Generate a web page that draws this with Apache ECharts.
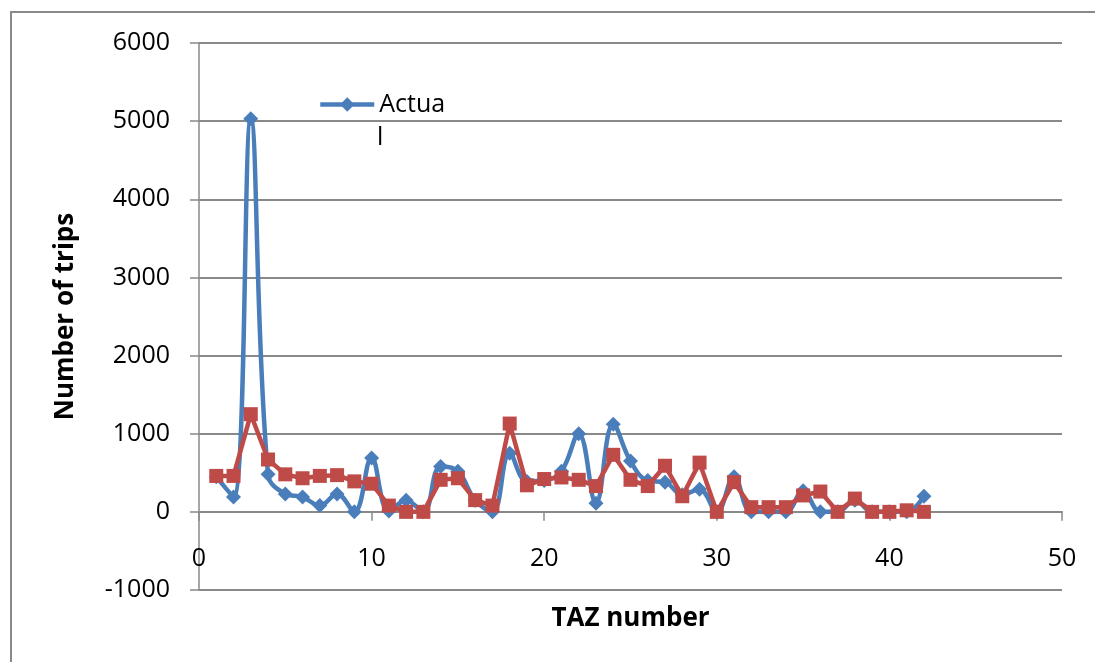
<!DOCTYPE html>
<html>
<head>
<meta charset="utf-8">
<script src="https://cdn.jsdelivr.net/npm/echarts@6/dist/echarts.min.js"></script>
<style>
html,body{margin:0;padding:0;background:#fff;}
#chart{width:1095px;height:662px;}
</style>
</head>
<body>
<div id="chart"></div>
<script>
const tazNumbers = [1,2,3,4,5,6,7,8,9,10,11,12,13,14,15,16,17,18,19,20,21,22,23,24,25,26,27,28,29,30,31,32,33,34,35,36,37,38,39,40,41,42];
const actualTrips = [450,190,5030,480,230,190,80,230,0,690,10,150,0,580,520,150,0,750,390,400,520,1000,110,1120,650,400,380,220,290,0,450,0,0,0,270,0,0,150,0,0,0,200];
const estimatedTrips = [460,460,1250,670,480,430,460,470,390,360,80,0,0,410,430,150,80,1130,340,420,440,410,330,730,410,330,590,200,630,0,380,60,60,60,210,260,0,170,0,0,20,0];
const yTicks = [-1000,0,1000,2000,3000,4000,5000,6000];
const xTicks = [0,10,20,30,40,50];

const actualName = 'Actual';
const estimatedName = 'Estimated';

const FONT = '"Open Sans", "Liberation Sans", sans-serif';
const GRIDC = '#898989';

const chart = echarts.init(document.getElementById('chart'), null, {renderer:'canvas'});
chart.setOption({
  animation:false,
  backgroundColor:'#fff',
  grid:{left:199, right:33, top:43, bottom:72, containLabel:false, outerBoundsMode:'none'},
  xAxis:{
    type:'value', min:xTicks[0], max:xTicks[xTicks.length-1], interval:10,
    name:'TAZ number', nameLocation:'middle', nameGap:16,
    nameTextStyle:{fontFamily:FONT, fontSize:26, fontWeight:'bold', color:'#000'},
    axisLine:{show:true, onZero:true, lineStyle:{color:GRIDC, width:2}},
    axisTick:{show:true, length:9, lineStyle:{color:GRIDC, width:1.5}},
    axisLabel:{fontFamily:FONT, fontSize:25, color:'#000', margin:-44, formatter:function(v){return String(v);}},
    splitLine:{show:false}
  },
  yAxis:{
    type:'value', min:yTicks[0], max:yTicks[yTicks.length-1], interval:1000,
    name:'Number of trips', nameLocation:'middle', nameGap:120,
    nameTextStyle:{fontFamily:FONT, fontSize:26, fontWeight:'bold', color:'#000'},
    axisLine:{show:true, onZero:false, lineStyle:{color:GRIDC, width:1.5}},
    axisTick:{show:true, length:9, lineStyle:{color:GRIDC, width:1.5}},
    axisLabel:{fontFamily:FONT, fontSize:25, color:'#000', margin:29, formatter:function(v){return String(v);}},
    splitLine:{show:true, lineStyle:{color:GRIDC, width:2}}
  },
  legend:{
    data:[actualName],
    left:318, top:92, padding:0,
    itemWidth:54, itemHeight:18, itemGap:10,
    lineStyle:{width:4.5},
    formatter:function(n){ return n.slice(0,5); },
    textStyle:{fontFamily:FONT, fontSize:25, color:'#000', padding:[0,0,0,0]}
  },
  graphic:[
    {type:'rect', silent:true, z:-1, shape:{x:11, y:12, width:1200, height:800},
     style:{fill:'none', stroke:GRIDC, lineWidth:2}},
    {type:'text', silent:true, x:377, y:138,
     style:{text:actualName.slice(5), fontFamily:FONT, fontSize:25, fill:'#000', verticalAlign:'middle', align:'left'}}
  ],
  series:[
    {
      name:actualName, type:'line', smooth:0.4,
      data:tazNumbers.map((x,i)=>[x, actualTrips[i]]),
      symbol:'diamond', symbolSize:15,
      lineStyle:{color:'#4A7EBB', width:4.5},
      itemStyle:{color:'#4A7EBB'},
      z:2
    },
    {
      name:estimatedName, type:'line', smooth:false,
      data:tazNumbers.map((x,i)=>[x, estimatedTrips[i]]),
      symbol:'rect', symbolSize:14,
      lineStyle:{color:'#BE4B48', width:4.5},
      itemStyle:{color:'#BE4B48'},
      z:3
    }
  ]
});
</script>
</body>
</html>
